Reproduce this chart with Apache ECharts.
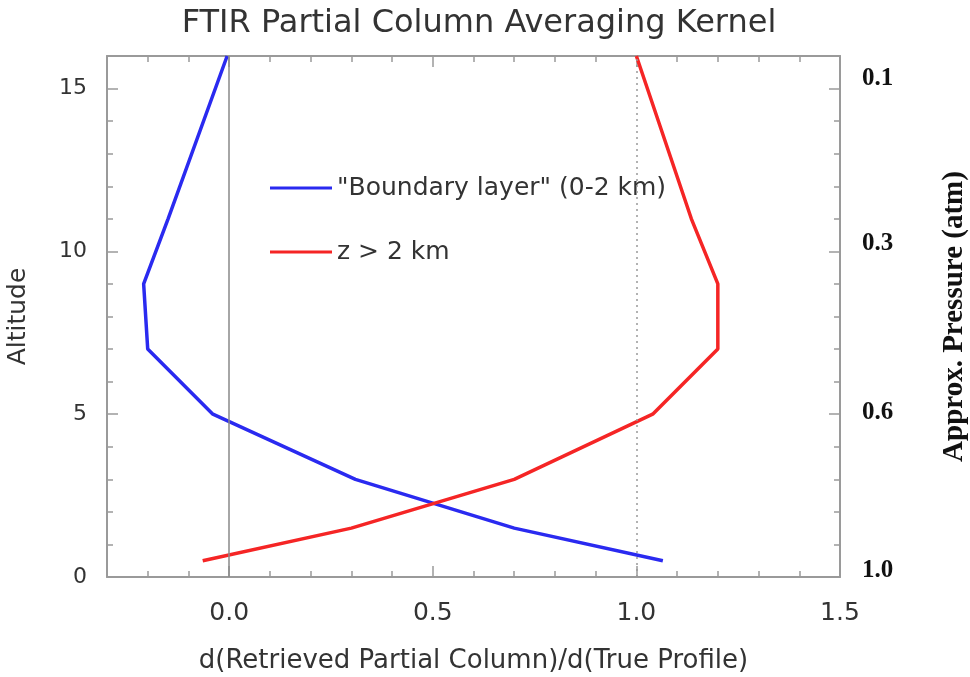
<!DOCTYPE html>
<html>
<head>
<meta charset="utf-8">
<script src="https://cdn.jsdelivr.net/npm/echarts@6/dist/echarts.min.js"></script>
<style>
html,body{margin:0;padding:0;background:#fff;}
#chart{width:970px;height:677px;}
</style>
</head>
<body>
<div id="chart"></div>
<script>
// ---- data ----
const altitude      = [0.5, 1.5, 3.0, 5.0, 7.0, 9.0, 11.0, 16.0];
const boundaryLayer = [1.065, 0.70, 0.31, -0.04, -0.20, -0.21, -0.15, -0.005];
const upperLayer    = [-0.065, 0.30, 0.70, 1.04, 1.20, 1.20, 1.135, 1.0];
const seriesNames   = ['"Boundary layer" (0-2 km)', 'z > 2 km'];

const xTickValues = [0, 0.5, 1.0, 1.5];
const xTickLabels = ['0.0', '0.5', '1.0', '1.5'];
const yTickValues = [0, 5, 10, 15];
const yTickLabels = ['0', '5', '10', '15'];
const pressureAlt    = [15.3, 10.25, 5.05, 0.2];
const pressureLabels = ['0.1', '0.3', '0.6', '1.0'];
const refLines = [0, 1];

const xMin = -0.3, xMax = 1.5, yMin = 0, yMax = 16;

// minor tick positions
const xMinor = [];
for (let i = -3; i <= 15; i++) xMinor.push(+(i / 10).toFixed(1));
const yMinor = [];
for (let i = 0; i <= 16; i++) yMinor.push(i);

function pairs(xs, ys) { return xs.map((x, i) => [x, ys[i]]); }

const sans = 'DejaVu Sans';
const axisGray = '#9a9a9a';
const textCol = '#333';

function xAx(pos, ticks, len, showLine, labels) {
  return {
    type: 'value', position: pos, min: xMin, max: xMax, gridIndex: 0,
    axisLine: { show: showLine, onZero: false, lineStyle: { color: axisGray, width: 2 } },
    axisTick: { show: true, inside: true, length: len, customValues: ticks, lineStyle: { color: axisGray, width: 1.5 } },
    axisLabel: labels ? {
      show: true, customValues: xTickValues, margin: 24,
      formatter: v => xTickLabels[xTickValues.findIndex(t => Math.abs(t - v) < 1e-9)] || '',
      fontFamily: sans, fontSize: 25, color: textCol
    } : { show: false },
    splitLine: { show: false }
  };
}
function yAx(pos, ticks, len, showLine, labelCfg) {
  return {
    type: 'value', position: pos, min: yMin, max: yMax, gridIndex: 0,
    axisLine: { show: showLine, onZero: false, lineStyle: { color: axisGray, width: 2 } },
    axisTick: { show: true, inside: true, length: len, customValues: ticks, lineStyle: { color: axisGray, width: 1.5 } },
    axisLabel: labelCfg || { show: false },
    splitLine: { show: false }
  };
}

const xAxes = [
  Object.assign(xAx('bottom', xMinor, 6, true, true), {
    name: 'd(Retrieved Partial Column)/d(True Profile)', nameLocation: 'middle', nameGap: 71,
    nameTextStyle: { fontFamily: sans, fontSize: 26, color: textCol }
  }),
  xAx('top', xMinor, 6, true, false),
  xAx('bottom', xTickValues, 11, false, false),
  xAx('top', xTickValues, 11, false, false)
];
const yAxes = [
  Object.assign(yAx('left', yMinor, 6, true, {
    show: true, customValues: yTickValues, margin: 20,
    formatter: v => yTickLabels[yTickValues.indexOf(v)] || '',
    fontFamily: sans, fontSize: 22, color: textCol
  }), {
    name: 'Altitude', nameLocation: 'middle', nameGap: 76, nameRotate: 90,
    nameTextStyle: { fontFamily: sans, fontSize: 25, color: textCol }
  }),
  Object.assign(yAx('right', yMinor, 6, true, {
    show: true, customValues: pressureAlt, margin: 22,
    formatter: v => pressureLabels[pressureAlt.findIndex(t => Math.abs(t - v) < 1e-9)] || '',
    fontFamily: 'Liberation Serif', fontWeight: 'bold', fontSize: 25, color: '#111'
  }), {
    name: 'Approx. Pressure (atm)', nameLocation: 'middle', nameGap: 100, nameRotate: 90,
    nameTextStyle: { fontFamily: 'Liberation Serif', fontWeight: 'bold', fontSize: 29, color: '#111' }
  }),
  yAx('left', yTickValues, 11, false, null),
  yAx('right', yTickValues, 11, false, null)
];

const option = {
  animation: false,
  backgroundColor: '#fff',
  title: {
    text: 'FTIR Partial Column Averaging Kernel',
    left: 474, top: 3, textAlign: 'center',
    textStyle: { fontFamily: sans, fontSize: 32, fontWeight: 'normal', color: textCol }
  },
  grid: { left: 107, right: 130, top: 56, bottom: 100, outerBoundsMode: 'none', containLabel: false },
  legend: {
    left: 265, top: 170, orient: 'vertical',
    icon: 'rect', itemWidth: 62, itemHeight: 3, itemGap: 38,
    data: seriesNames,
    textStyle: { fontFamily: sans, fontSize: 25, color: textCol, lineHeight: 26 }
  },
  xAxis: xAxes,
  yAxis: yAxes,
  series: [
    {
      name: seriesNames[0], type: 'line', xAxisIndex: 0, yAxisIndex: 0,
      data: pairs(boundaryLayer, altitude), symbol: 'none',
      lineStyle: { color: '#2a2af0', width: 3.5 }, itemStyle: { color: '#2a2af0' },
      markLine: {
        silent: true, symbol: 'none', label: { show: false },
        data: [
          { xAxis: refLines[0], lineStyle: { color: '#888', width: 1.5, type: 'solid' } },
          { xAxis: refLines[1], lineStyle: { color: '#999', width: 1.5, type: [2, 4] } }
        ]
      },
      z: 3
    },
    {
      name: seriesNames[1], type: 'line', xAxisIndex: 0, yAxisIndex: 0,
      data: pairs(upperLayer, altitude), symbol: 'none',
      lineStyle: { color: '#f52525', width: 3.5 }, itemStyle: { color: '#f52525' },
      z: 3
    }
  ]
};

const chart = echarts.init(document.getElementById('chart'), null, { renderer: 'canvas' });
chart.setOption(option);
</script>
</body>
</html>
